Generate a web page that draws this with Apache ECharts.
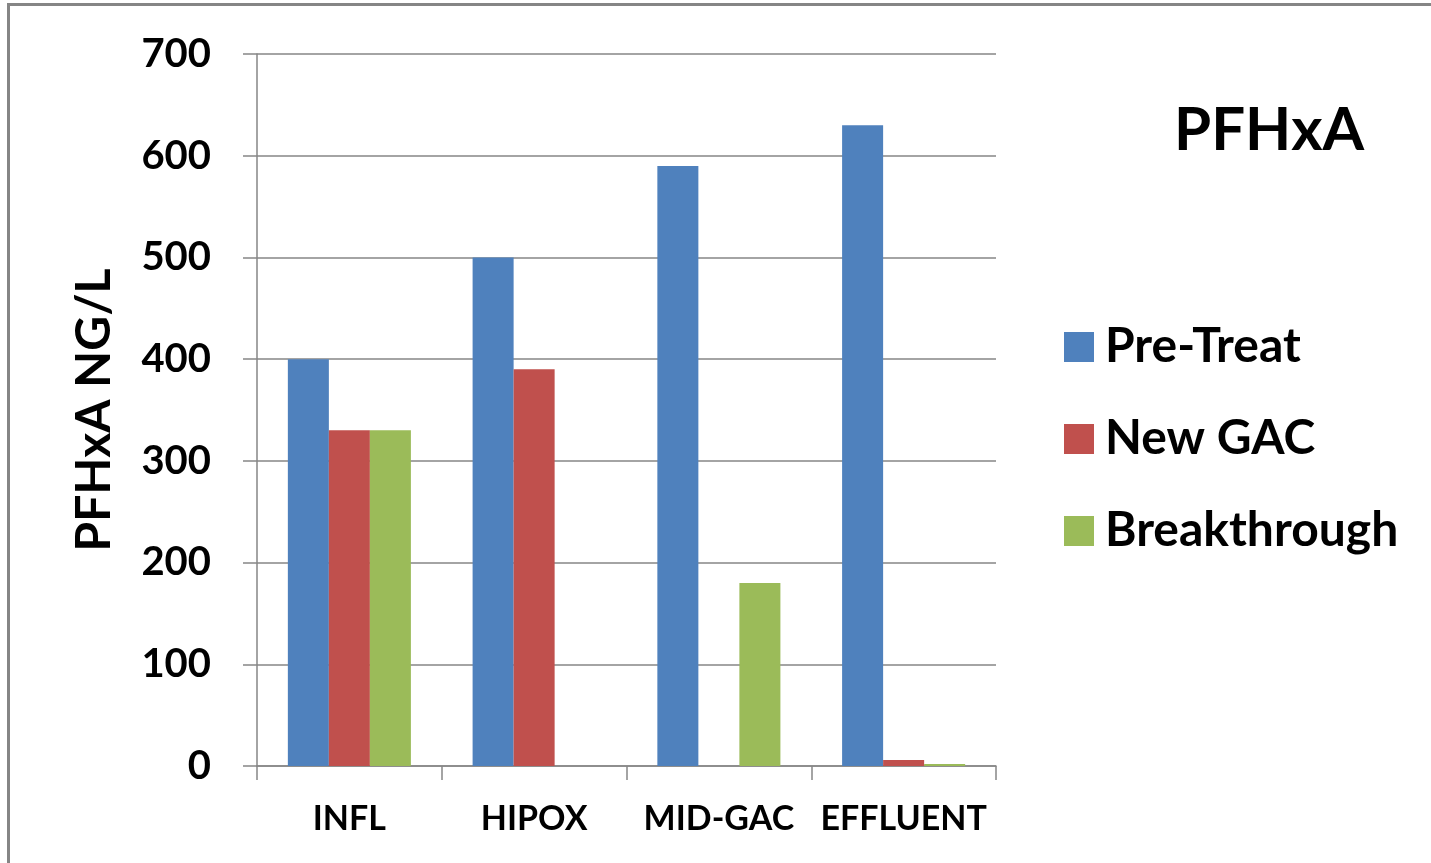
<!DOCTYPE html>
<html>
<head>
<meta charset="utf-8">
<script src="https://cdn.jsdelivr.net/npm/echarts@6/dist/echarts.min.js"></script>
<style>
  html, body { margin: 0; padding: 0; background: #fff; }
  #chart { width: 1431px; height: 863px; }
</style>
</head>
<body>
<div id="chart"></div>
<script>
// values
var categories = ['INFL', 'HIPOX', 'MID-GAC', 'EFFLUENT'];
var preTreat = [400, 500, 590, 630];
var newGac = [330, 390, 0, 6];
var breakthrough = [330, 0, 180, 2];
var yTicks = { min: 0, max: 700, step: 100 };

var chart = echarts.init(document.getElementById('chart'));
var font = 'Lato, "Open Sans", sans-serif';
var gray = '#868686';

var option = {
  animation: false,
  textStyle: { fontFamily: font },
  title: {
    text: 'PFHxA',
    left: 1169,
    top: 96,
    textStyle: { fontSize: 60, fontWeight: 'bold', color: '#000', fontFamily: font }
  },
  legend: {
    orient: 'vertical',
    left: 1059,
    top: 318,
    itemWidth: 30,
    itemHeight: 30,
    itemGap: 44,
    icon: 'rect',
    textStyle: { fontSize: 48, fontWeight: 'bold', color: '#000', padding: [0, 0, 0, 6] },
    data: ['Pre-Treat', 'New GAC', 'Breakthrough']
  },
  graphic: [{
    type: 'rect',
    shape: { x: 8.5, y: 4.5, width: 1600, height: 1000 },
    style: { fill: 'none', stroke: '#858585', lineWidth: 3 },
    silent: true
  }],
  grid: { left: 257, right: 435, top: 54, bottom: 97 },
  xAxis: {
    type: 'category',
    data: categories,
    axisLine: { lineStyle: { color: gray, width: 1.5 } },
    axisTick: { show: true, length: 14, lineStyle: { color: gray, width: 1.5 } },
    axisLabel: { color: '#000', fontSize: 34, fontWeight: 'bold', margin: 36, interval: 0 }
  },
  yAxis: {
    type: 'value',
    min: yTicks.min,
    max: yTicks.max,
    interval: yTicks.step,
    name: 'PFHxA NG/L',
    nameLocation: 'middle',
    nameGap: 138,
    nameRotate: 90,
    nameTextStyle: { fontSize: 48, fontWeight: 'bold', color: '#000' },
    axisLine: { show: true, lineStyle: { color: gray, width: 1.5 } },
    axisTick: { show: true, length: 14, lineStyle: { color: gray, width: 1.5 } },
    axisLabel: { color: '#000', fontSize: 40, fontWeight: 'bold', margin: 46 },
    splitLine: { lineStyle: { color: gray, width: 1.5 } }
  },
  series: [
    { name: 'Pre-Treat', type: 'bar', data: preTreat, barGap: 0, barCategoryGap: '33.4%',
      itemStyle: { color: '#4F81BD' } },
    { name: 'New GAC', type: 'bar', data: newGac,
      itemStyle: { color: '#C0504D' } },
    { name: 'Breakthrough', type: 'bar', data: breakthrough,
      itemStyle: { color: '#9BBB59' } }
  ]
};

chart.setOption(option);
</script>
</body>
</html>
